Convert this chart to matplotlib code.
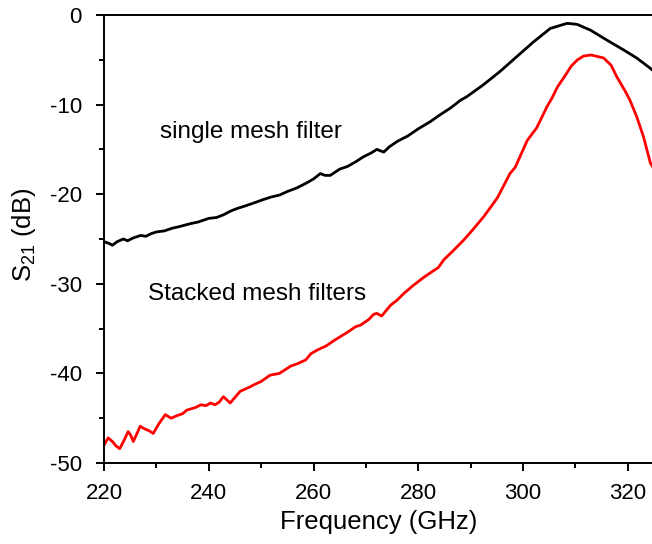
import matplotlib
matplotlib.use("Agg")
import matplotlib.pyplot as plt
from matplotlib.ticker import MultipleLocator

plt.rcParams["font.family"] = ["Liberation Sans", "DejaVu Sans"]
plt.rcParams["mathtext.default"] = "regular"
plt.rcParams["axes.unicode_minus"] = False

# single mesh filter (GHz, dB)
freq_single = [220.0, 221.0, 221.6, 222.5, 223.7, 224.5, 225.5, 227.0, 228.0, 229.0,
               230.1, 231.5, 233.0, 234.5, 236.4, 238.0, 240.0, 241.5, 242.8, 244.1,
               245.4, 247.0, 248.5, 250.4, 252.0, 253.5, 255.0, 256.8, 258.5, 260.0,
               261.3, 262.2, 263.2, 265.0, 266.5, 268.0, 269.6, 271.0, 272.1, 273.4,
               274.5, 276.0, 278.0, 280.0, 282.3, 284.0, 286.1, 288.1, 289.3, 292.4,
               295.6, 298.8, 302.0, 305.2, 308.4, 310.3, 312.9, 316.0, 319.2, 321.7,
               324.3, 325.0]
s21_single = [-25.3, -25.5, -25.7, -25.3, -25.0, -25.2, -24.9, -24.6, -24.7, -24.4,
              -24.2, -24.1, -23.8, -23.6, -23.3, -23.1, -22.7, -22.6, -22.3, -21.9,
              -21.6, -21.3, -21.0, -20.6, -20.3, -20.1, -19.7, -19.3, -18.8, -18.3,
              -17.7, -17.9, -17.9, -17.2, -16.9, -16.4, -15.8, -15.4, -15.0, -15.3,
              -14.7, -14.1, -13.5, -12.7, -11.9, -11.2, -10.4, -9.5, -9.1, -7.8,
              -6.3, -4.65, -3.0, -1.5, -0.93, -1.04, -1.7, -2.8, -3.9, -4.8,
              -5.95, -6.3]

# stacked mesh filters (GHz, dB)
freq_stacked = [220.0, 220.8, 221.6, 222.3, 223.0, 223.8, 224.6, 225.1, 225.6, 226.3,
                226.9, 227.8, 228.6, 229.4, 230.5, 231.7, 232.8, 234.0, 235.0, 235.8,
                237.5, 238.5, 239.5, 240.3, 241.2, 242.0, 242.8, 244.1, 246.0, 247.9,
                248.5, 250.0, 251.7, 253.5, 255.6, 257.0, 258.5, 259.5, 260.7, 262.5,
                264.0, 265.1, 266.5, 268.0, 269.0, 270.5, 271.5, 272.1, 273.0, 274.7,
                276.0, 277.2, 279.0, 281.0, 283.0, 283.8, 284.9, 286.5, 288.7, 290.5,
                292.5, 294.0, 295.1, 297.5, 298.5, 300.8, 302.6, 304.6, 305.5, 306.6,
                308.0, 309.2, 310.4, 311.5, 312.9, 314.0, 315.4, 316.8, 317.9, 319.5,
                320.4, 321.7, 323.0, 324.3, 325.0]
s21_stacked = [-48.0, -47.2, -47.6, -48.1, -48.4, -47.5, -46.5, -46.9, -47.6, -46.7,
               -45.9, -46.2, -46.4, -46.7, -45.6, -44.6, -45.0, -44.7, -44.5, -44.1,
               -43.8, -43.5, -43.6, -43.3, -43.5, -43.2, -42.6, -43.3, -42.0, -41.5,
               -41.3, -40.9, -40.2, -40.0, -39.2, -38.9, -38.5, -37.8, -37.4, -36.9,
               -36.3, -35.9, -35.4, -34.8, -34.6, -34.0, -33.4, -33.3, -33.6, -32.4,
               -31.8, -31.1, -30.2, -29.3, -28.5, -28.2, -27.3, -26.4, -25.1, -23.9,
               -22.5, -21.3, -20.4, -17.7, -17.0, -14.0, -12.6, -10.2, -9.3, -8.0,
               -6.8, -5.7, -5.0, -4.6, -4.46, -4.6, -4.8, -5.6, -6.9, -8.5,
               -9.5, -11.35, -13.6, -16.5, -17.2]

fig = plt.figure(figsize=(6.52, 5.44), dpi=100)
ax = fig.add_axes([104 / 652, 81 / 544, 550 / 652, 448 / 544])

ax.plot(freq_single, s21_single, color="black", lw=2.0)
ax.plot(freq_stacked, s21_stacked, color="#FF0000", lw=2.0)

ax.set_xlim(220, 325)
ax.set_ylim(-50, 0)
ax.xaxis.set_major_locator(MultipleLocator(20))
ax.xaxis.set_minor_locator(MultipleLocator(10))
ax.yaxis.set_major_locator(MultipleLocator(10))
ax.yaxis.set_minor_locator(MultipleLocator(5))

ax.spines["right"].set_visible(False)
for s in ["left", "bottom", "top"]:
    ax.spines[s].set_linewidth(1.4)
ax.tick_params(which="major", direction="out", length=6, width=1.4,
               labelsize=16, pad=8.5)
ax.tick_params(which="minor", direction="out", length=3.5, width=1.4)
ax.tick_params(axis="y", which="both", pad=10)

ax.set_xlabel("Frequency (GHz)", fontsize=18.5, labelpad=4)
ax.set_ylabel("S$_{21}$ (dB)", fontsize=18.5)
ax.yaxis.set_label_coords(-0.12, 0.51)

ax.text(230.7, -13.1, "single mesh filter", fontsize=17.5, va="center")
ax.text(228.4, -31.1, "Stacked mesh filters", fontsize=17.5, va="center")

fig.savefig("out.png", dpi=100)
